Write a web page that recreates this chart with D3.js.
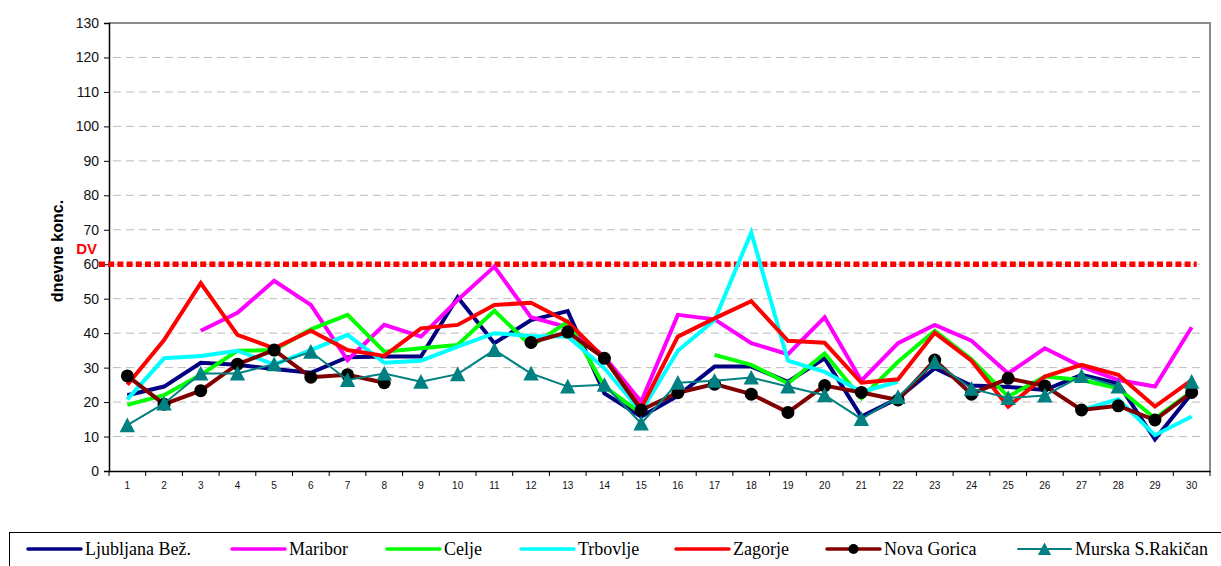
<!DOCTYPE html>
<html>
<head>
<meta charset="utf-8">
<script src="https://cdn.jsdelivr.net/npm/d3@7"></script>
<style>
  html, body { margin: 0; padding: 0; background: #fff; }
  svg { display: block; }
</style>
</head>
<body>
<svg id="chart" width="1221" height="566"></svg>
<script>
// Days of the month
const days = d3.range(1, 31);

// Daily concentrations per station (null = no measurement)
const ljubljana = [22.0, 24.5, 31.4, 30.8, 29.6, 28.5, 33.0, 33.2, 33.2, 50.4, 37.1, 43.8, 46.4, 22.5, 15.8, 21.8, 30.3, 30.3, 25.9, 32.7, 15.8, 21.1, 29.8, 24.8, 24.4, 23.5, 27.9, 25.4, 9.2, 22.5];
const maribor   = [null, null, 40.7, 45.9, 55.2, 48.2, 32.2, 42.4, 39.0, 49.6, 59.3, 44.6, 41.7, 33.2, 20.1, 45.3, 44.0, 37.1, 33.9, 44.6, 26.2, 37.1, 42.4, 37.8, 28.3, 35.6, 30.3, 26.4, 24.5, 41.7];
const celje     = [19.2, 22.0, 27.9, 34.9, 35.1, 41.1, 45.3, 34.6, 35.6, 36.6, 46.5, 36.3, 43.3, 24.5, 16.7, null, 33.7, 30.8, 25.4, 34.1, 21.1, 31.7, 40.7, 32.4, 21.6, 27.4, 26.4, 24.0, 15.3, 23.0];
const trbovlje  = [20.8, 32.7, 33.4, 34.9, 30.9, 35.1, 39.5, 31.4, 32.0, 36.1, 40.0, 39.2, 39.0, 29.8, 17.2, 34.9, 43.8, 69.2, 32.0, 28.8, 23.0, 25.9, null, null, null, null, 17.7, 20.8, 10.4, 15.8];
const zagorje   = [25.0, 38.0, 54.5, 39.5, 35.6, 40.7, 35.1, 33.4, 41.4, 42.4, 48.2, 48.8, 43.3, 32.7, 18.2, 39.0, 44.3, 49.3, 37.8, 37.2, 25.6, 26.6, 40.1, 32.0, 18.7, 27.4, 30.8, 27.9, 18.7, 26.4];
const novaGorica = [27.6, 19.4, 23.3, 31.0, 35.1, 27.2, 27.9, 25.6, null, null, null, 37.3, 40.3, 32.7, 17.7, 22.7, 25.2, 22.3, 17.0, 24.8, 22.8, 20.6, 32.2, 22.3, 26.9, 24.7, 17.7, 18.9, 14.8, 22.8];
const murska    = [13.3, 19.6, 28.3, 28.3, 31.0, 34.6, 26.4, 28.3, 25.9, 28.1, 35.1, 28.3, 24.5, 25.0, 13.8, 25.6, 26.2, 27.1, 24.5, 22.0, 15.1, 21.5, 31.6, 23.9, 21.2, 21.9, 27.6, 24.5, null, 25.9];

// Station names and the daily limit value
const stationNames = ["Ljubljana Bež.", "Maribor", "Celje", "Trbovlje", "Zagorje", "Nova Gorica", "Murska S.Rakičan"];
const limitValue = 60;
const limitLabel = "DV";
const yTicks = d3.range(0, 131, 10);
const yTitle = "dnevne konc.";

const SANS = "'Liberation Sans', Arial, sans-serif";
const SERIF = "'Liberation Serif', 'Times New Roman', serif";

const series = [
  { name: stationNames[0], values: ljubljana,  color: "#000080", width: 4, marker: null },
  { name: stationNames[1], values: maribor,    color: "#ff00ff", width: 4, marker: null },
  { name: stationNames[2], values: celje,      color: "#00ff00", width: 4, marker: null },
  { name: stationNames[3], values: trbovlje,   color: "#00ffff", width: 4, marker: null },
  { name: stationNames[4], values: zagorje,    color: "#ff0000", width: 4, marker: null },
  { name: stationNames[5], values: novaGorica, color: "#800000", width: 4, marker: "circle" },
  { name: stationNames[6], values: murska,     color: "#008080", width: 2, marker: "triangle" }
];

const svg = d3.select("#chart");
const plot = { left: 109, right: 1210, top: 23, bottom: 471 };

const x = d3.scaleBand().domain(days).range([plot.left, plot.right]).padding(0);
const y = d3.scaleLinear().domain([0, 130]).range([plot.bottom, plot.top]);
const cx = d => x(d) + x.bandwidth() / 2;

// Dashed horizontal gridlines
svg.append("g")
  .selectAll("line")
  .data(yTicks.filter(t => t > 0 && t < 130))
  .join("line")
  .attr("x1", plot.left + 4).attr("x2", plot.right - 8)
  .attr("y1", d => y(d)).attr("y2", d => y(d))
  .attr("stroke", "#bdbdbd").attr("stroke-width", 1)
  .attr("stroke-dasharray", "8 5");

// Plot-area frame (top and right edges)
svg.append("path")
  .attr("d", `M${plot.left},${y(130)}H${plot.right}V${plot.bottom}`)
  .attr("fill", "none").attr("stroke", "#8c8c8c").attr("stroke-width", 2);

// Y axis
const yAxis = svg.append("g")
  .attr("transform", `translate(${plot.left},0)`)
  .call(d3.axisLeft(y).tickValues(yTicks).tickSize(5).tickPadding(5));
yAxis.select(".domain").attr("stroke", "#000").attr("stroke-width", 1.5);
yAxis.selectAll(".tick line").attr("stroke", "#000");
yAxis.selectAll(".tick text").attr("font-family", SANS).attr("font-size", 14).attr("fill", "#111");

// X axis: labels centred on days, ticks on day boundaries
const xAxis = svg.append("g")
  .attr("transform", `translate(0,${plot.bottom})`)
  .call(d3.axisBottom(x).tickSize(0).tickPadding(11));
xAxis.select(".domain").attr("stroke", "#000").attr("stroke-width", 1.5);
xAxis.selectAll(".tick text").attr("font-family", SANS).attr("font-size", 10).attr("fill", "#111");
xAxis.append("g")
  .selectAll("line")
  .data(days.concat([null]))
  .join("line")
  .attr("x1", d => d === null ? plot.right : x(d))
  .attr("x2", d => d === null ? plot.right : x(d))
  .attr("y1", 0).attr("y2", 5)
  .attr("stroke", "#000");

// Y axis title
svg.append("text")
  .attr("transform", `translate(57,${(plot.top + plot.bottom) / 2 + 4}) rotate(-90)`)
  .attr("text-anchor", "middle")
  .attr("dominant-baseline", "central")
  .attr("font-family", SANS)
  .attr("font-size", 16).attr("font-weight", "bold").attr("fill", "#000")
  .text(yTitle);

// Limit value line (DV)
svg.append("line")
  .attr("x1", plot.left - 10).attr("x2", cx(days[days.length - 1]) + 5)
  .attr("y1", y(limitValue)).attr("y2", y(limitValue))
  .attr("stroke", "#ff0000").attr("stroke-width", 5.5)
  .attr("stroke-dasharray", "6 3.2");
svg.append("text")
  .attr("x", plot.left - 12).attr("y", y(limitValue) - 10)
  .attr("text-anchor", "end")
  .attr("font-family", SANS)
  .attr("font-size", 15).attr("font-weight", "bold").attr("fill", "#ff0000")
  .text(limitLabel);

// Station lines
const line = d3.line()
  .defined(d => d.v !== null)
  .x(d => cx(d.day))
  .y(d => y(d.v));

const triangle = (s) => `M0,${-s * 0.55}L${s * 0.55},${s * 0.5}L${-s * 0.55},${s * 0.5}Z`;

series.forEach(s => {
  const pts = days.map((day, i) => ({ day, v: s.values[i] }));
  svg.append("path")
    .datum(pts)
    .attr("d", line)
    .attr("fill", "none")
    .attr("stroke", s.color)
    .attr("stroke-width", s.width)
    .attr("stroke-linejoin", "miter");
  const present = pts.filter(p => p.v !== null);
  if (s.marker === "circle") {
    svg.append("g").selectAll("circle").data(present).join("circle")
      .attr("cx", d => cx(d.day)).attr("cy", d => y(d.v)).attr("r", 6.5)
      .attr("fill", "#000");
  } else if (s.marker === "triangle") {
    svg.append("g").selectAll("path").data(present).join("path")
      .attr("transform", d => `translate(${cx(d.day)},${y(d.v)})`)
      .attr("d", triangle(14))
      .attr("fill", s.color);
  }
});

// Legend
const legendY = 549;
svg.append("rect")
  .attr("x", 9.5).attr("y", 532.5).attr("width", 1240).attr("height", 40)
  .attr("fill", "#fff").attr("stroke", "#000").attr("stroke-width", 1);
const legendStarts = [28, 232, 387, 521, 676, 827, 1018];
series.forEach((s, i) => {
  const g = svg.append("g").attr("transform", `translate(${legendStarts[i]},${legendY})`);
  g.append("line")
    .attr("x1", 0).attr("x2", 53).attr("y1", 0).attr("y2", 0)
    .attr("stroke", s.color).attr("stroke-width", s.width === 2 ? 2 : 3.5)
    .attr("stroke-linecap", "round");
  if (s.marker === "circle") {
    g.append("circle").attr("cx", 26.5).attr("cy", 0).attr("r", 5).attr("fill", "#000");
  } else if (s.marker === "triangle") {
    g.append("path").attr("transform", "translate(26.5,0)").attr("d", triangle(12)).attr("fill", s.color);
  }
  g.append("text")
    .attr("x", 57).attr("y", 0)
    .attr("dominant-baseline", "central")
    .attr("font-family", SERIF)
    .attr("font-size", 18).attr("fill", "#000")
    .text(s.name);
});
</script>
</body>
</html>
